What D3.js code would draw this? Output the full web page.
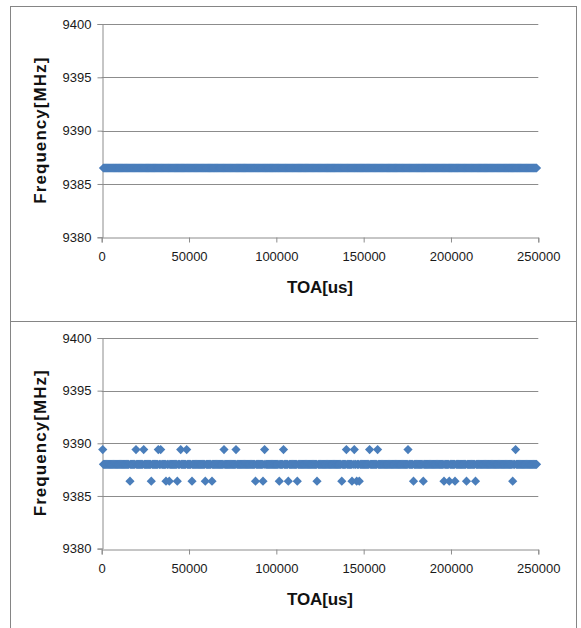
<!DOCTYPE html>
<html>
<head>
<meta charset="utf-8">
<script src="https://cdn.jsdelivr.net/npm/d3@7"></script>
<style>
  html, body { margin: 0; padding: 0; background: #fff; }
  svg { display: block; }
  .tick text { font-family: "Liberation Sans", Arial, sans-serif; font-size: 13px; fill: #1a1a1a; }
  .title { font-family: "Liberation Sans", Arial, sans-serif; font-weight: bold; fill: #111; }
</style>
</head>
<body>
<svg id="chart" width="581" height="628"></svg>
<script>
// Axis domains and tick labels
const toaTicks = [0, 50000, 100000, 150000, 200000, 250000];
const freqTicks = [9380, 9385, 9390, 9395, 9400];

// Pulse train: TOA of every received pulse [us] (constant PRI)
const pulsePRI = 500;
const pulseTOA = d3.range(1000, 249001, pulsePRI);

// Panel 1: every pulse measured at the same frequency [MHz]
const freqPanel1 = 9386.5;

// Panel 2: most pulses on the main frequency, some one step above or below
const freqMain2 = 9388.0;
const freqHigh2 = 9389.4;
const freqLow2 = 9386.4;
const toaHigh2 = [600, 19640, 24050, 32410, 33780, 45240, 48670, 70030, 76900,
  93280, 104100, 140110, 144640, 153400, 157980, 175390, 237000];
const toaLow2 = [16200, 28400, 36820, 38710, 43290, 51710, 59320, 63160, 88070,
  92360, 101690, 106850, 112000, 123280, 137480, 143320, 146010, 147500, 178540,
  184150, 196000, 199040, 202300, 208890, 214040, 235340];

const svg = d3.select("#chart");
const markerColor = "#4A7EBB";

// Square diamond marker (Excel style)
const diamondType = {
  draw(ctx, size) {
    const r = Math.sqrt(size / 2);
    ctx.moveTo(0, -r); ctx.lineTo(r, 0); ctx.lineTo(0, r); ctx.lineTo(-r, 0); ctx.closePath();
  }
};
const diamond = d3.symbol().type(diamondType).size(2 * 4.6 * 4.6)();

function drawPanel(frame, plot, series) {
  // outer frame
  svg.append("rect")
    .attr("x", frame.x + 0.5).attr("y", frame.y + 0.5)
    .attr("width", frame.w).attr("height", frame.h)
    .attr("fill", "none").attr("stroke", "#858585").attr("stroke-width", 1);

  const x = d3.scaleLinear().domain([0, 250000]).range([plot.left, plot.right]);
  const y = d3.scaleLinear().domain([9380, 9400]).range([plot.bottom, plot.top]);

  const g = svg.append("g");

  // horizontal gridlines
  g.append("g").selectAll("line")
    .data(freqTicks.filter(d => d !== 9380))
    .join("line")
    .attr("x1", plot.left).attr("x2", plot.right)
    .attr("y1", d => Math.round(y(d)) + 0.5).attr("y2", d => Math.round(y(d)) + 0.5)
    .attr("stroke", "#8c8c8c").attr("stroke-width", 1);

  // y axis
  const yAxis = g.append("g")
    .attr("transform", `translate(${Math.round(plot.left) + 0.5},0)`)
    .call(d3.axisLeft(y).tickValues(freqTicks).tickFormat(d3.format("d")).tickSizeOuter(0).tickSize(5).tickPadding(6));
  yAxis.select(".domain").attr("stroke", "#8c8c8c");
  yAxis.selectAll(".tick line").attr("stroke", "#8c8c8c");

  // x axis
  const xAxis = g.append("g")
    .attr("transform", `translate(0,${Math.round(plot.bottom) + 0.5})`)
    .call(d3.axisBottom(x).tickValues(toaTicks).tickFormat(d3.format("d")).tickSizeOuter(0).tickSize(5).tickPadding(9));
  xAxis.select(".domain").attr("stroke", "#8c8c8c");
  xAxis.selectAll(".tick line").attr("stroke", "#8c8c8c");

  // markers
  const pts = g.append("g");
  series.forEach(s => {
    pts.selectAll(null)
      .data(s.toa)
      .join("path")
      .attr("d", diamond)
      .attr("transform", d => `translate(${x(d)},${y(s.freq)})`)
      .attr("fill", markerColor);
  });

  // axis titles
  svg.append("text")
    .attr("class", "title")
    .attr("x", (plot.left + plot.right) / 2)
    .attr("y", plot.bottom + 56)
    .attr("text-anchor", "middle")
    .attr("font-size", 17)
    .attr("textLength", 66)
    .text("TOA[us]");

  const cy = (plot.top + plot.bottom) / 2;
  svg.append("text")
    .attr("class", "title")
    .attr("transform", `translate(46,${cy}) rotate(-90)`)
    .attr("text-anchor", "middle")
    .attr("font-size", 17)
    .attr("textLength", 146)
    .text("Frequency[MHz]");
}

drawPanel(
  { x: 10, y: 6, w: 566, h: 315 },
  { left: 101.7, right: 538.3, top: 24, bottom: 237.3 },
  [{ toa: pulseTOA, freq: freqPanel1 }]
);

// panel 2: main-frequency pulses exclude those measured off the main frequency
const offTOA = toaHigh2.concat(toaLow2);
const mainTOA2 = pulseTOA.filter(t => !offTOA.some(o => Math.abs(o - t) < pulsePRI / 2));

drawPanel(
  { x: 10, y: 321, w: 566, h: 320 },
  { left: 101.7, right: 538.3, top: 338, bottom: 548.6 },
  [
    { toa: mainTOA2, freq: freqMain2 },
    { toa: toaHigh2, freq: freqHigh2 },
    { toa: toaLow2, freq: freqLow2 }
  ]
);
</script>
</body>
</html>
